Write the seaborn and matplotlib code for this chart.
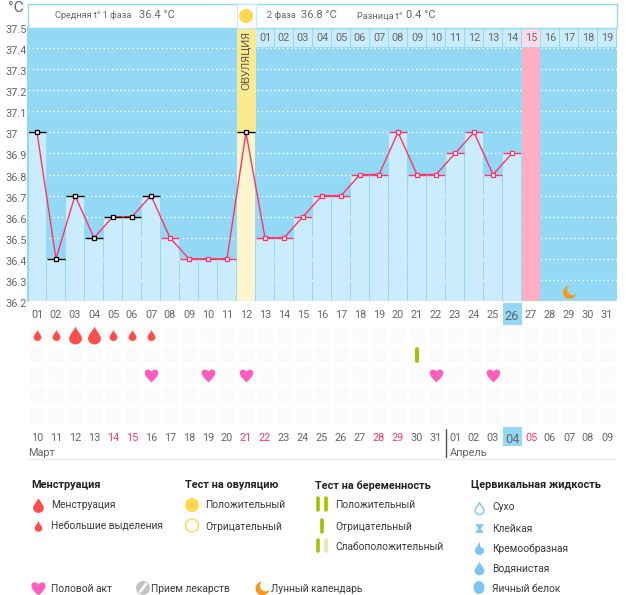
import numpy as np
import matplotlib
matplotlib.use("Agg")
import matplotlib.pyplot as plt
from matplotlib.path import Path
from matplotlib.patches import Rectangle, Circle, Ellipse
from matplotlib.transforms import ScaledTranslation
import seaborn as sns

days = [f"{i:02d}" for i in range(1, 32)]
temps = [37.0, 36.4, 36.7, 36.5, 36.6, 36.6, 36.7, 36.5, 36.4, 36.4, 36.4, 37.0, 36.5,
         36.5, 36.6, 36.7, 36.7, 36.8, 36.8, 37.0, 36.8, 36.8, 36.9, 37.0, 36.8, 36.9]
first_phase_days = [1, 2, 3, 4, 5, 6, 7, 12]
ovulation_day = 12
period_day = 27
today_day = 26
top_days = [f"{i:02d}" for i in range(1, 20)]
yticks = [36.2, 36.3, 36.4, 36.5, 36.6, 36.7, 36.8, 36.9, 37.0, 37.1, 37.2, 37.3, 37.4, 37.5]
ylabels = ["36.2", "36.3", "36.4", "36.5", "36.6", "36.7", "36.8", "36.9", "37", "37.1", "37.2", "37.3", "37.4", "37.5"]
dates = ["10", "11", "12", "13", "14", "15", "16", "17", "18", "19", "20", "21", "22", "23", "24", "25",
         "26", "27", "28", "29", "30", "31", "01", "02", "03", "04", "05", "06", "07", "08", "09"]
red_date_idx = [4, 5, 11, 12, 18, 19, 26]
small_drops = [1, 2, 5, 6, 7]
big_drops = [3, 4]
hearts = [7, 10, 12, 22, 25]
test_days = [21]
moon_day = 29

BG = "#93d8f5"; BAR = "#cbecfd"; PINK = "#ff3366"; TXT = "#666666"
RED = "#ff4d4d"; HEART = "#ff5cc0"; GREEN = "#9cc400"; ORANGE = "#f39a1a"; ICON = "#7cc4f4"
W, H = 626, 595

sns.set_style("white")
plt.rcParams["font.family"] = ["Roboto", "DejaVu Sans"]

def drop_path():
    v = [(0, 1), (0.15, 0.55), (0.72, 0.1), (0.72, -0.35), (0.72, -0.75), (0.35, -1), (0, -1),
         (-0.35, -1), (-0.72, -0.75), (-0.72, -0.35), (-0.72, 0.1), (-0.15, 0.55), (0, 1)]
    c = [Path.MOVETO] + [Path.CURVE4] * 12
    return Path(v, c)

def heart_path():
    v = [(0, -1), (-0.5, -0.55), (-1, -0.1), (-1, 0.4), (-1, 0.95), (-0.25, 1.05), (0, 0.55),
         (0.25, 1.05), (1, 0.95), (1, 0.4), (1, -0.1), (0.5, -0.55), (0, -1)]
    c = [Path.MOVETO] + [Path.CURVE4] * 12
    return Path(v, c)

def moon_path():
    cx, cy, r = 0.42, 0.38, 0.78
    d = np.hypot(cx, cy)
    a = np.arctan2(cy, cx)
    alpha = np.arccos((d * d + 1 - r * r) / (2 * d))
    beta = np.arccos((d * d + r * r - 1) / (2 * d * r))
    t1 = np.linspace(a + alpha, a + 2 * np.pi - alpha, 50)
    t2 = np.linspace(a + np.pi + beta, a + np.pi - beta, 30)
    pts = np.r_[np.c_[np.cos(t1), np.sin(t1)], np.c_[cx + r * np.cos(t2), cy + r * np.sin(t2)]]
    return Path(np.r_[pts, pts[:1]], closed=True)

DROP, HRT, MOON = drop_path(), heart_path(), moon_path()

fig = plt.figure(figsize=(W / 100, H / 100), dpi=100, facecolor="white")

def px_axes(l, t, r, b):
    return fig.add_axes([l / W, 1 - b / H, (r - l) / W, (b - t) / H])

# ---------- main chart ----------
ax = px_axes(27.5, 27, 616.5, 301)
ax.set_facecolor(BG)
x = np.arange(len(temps))
sns.barplot(x=days[:len(temps)], y=temps, order=days, color=BAR, saturation=1, width=0.94,
            errorbar=None, ax=ax, zorder=2, linewidth=0, edgecolor="none")
ax.patches[ovulation_day - 1].set_facecolor("#fdf5cc")
ax.set_xlim(-0.5, 30.5)
ax.set_ylim(36.2, 37.5)
ax.set_axisbelow(True)
ax.set_yticks(yticks, ylabels)
ax.grid(axis="y", color="white", ls=(0, (1, 2)), lw=1)
ax.grid(axis="x", visible=False)
ax.set_xlabel(""); ax.set_ylabel("")
ax.tick_params(axis="y", length=0, pad=16.2, labelsize=7.8, labelcolor=TXT)
ax.tick_params(axis="x", length=0, pad=6.5, labelsize=7.8, labelcolor=TXT)
shift = ScaledTranslation(0, -2 / 100, fig.dpi_scale_trans)
for lab in ax.get_yticklabels():
    lab.set_ha("left")
    lab.set_transform(lab.get_transform() + shift)
for s in ax.spines.values():
    s.set_visible(False)
ax.axvline(-0.5, color=BG, lw=1.5, zorder=5, clip_on=False)

ax.axvspan(ovulation_day - 1.5, ovulation_day - 0.5, ymin=(37.0 - 36.2) / 1.3, color="#fbe98f", lw=0, zorder=2)
ax.axvspan(period_day - 1.5 + 0.02, period_day - 0.5 - 0.02, ymax=(37.4 - 36.2) / 1.3, color="#ffaec4", lw=0, zorder=2)

# row of second-cycle numbering at the top
for i, lab in enumerate(top_days):
    pos = ovulation_day + i
    col = "#fddbe6" if pos + 1 == period_day else BAR
    ax.add_patch(Rectangle((pos - 0.47, 37.405), 0.94, 0.095, color=col, lw=0, zorder=2))
    ax.text(pos, 37.447, lab, ha="center", va="center", fontsize=7.8, color=TXT, zorder=6)
ax.text(ovulation_day - 1, 37.339, "ОВУЛЯЦИЯ", rotation=90, ha="center", va="center",
        fontsize=7.8, color="#555555", zorder=6, family="Noto Sans")

# temperature curve
sns.lineplot(x=x, y=temps, color=PINK, lw=1, errorbar=None, ax=ax, zorder=4)
first = np.isin(x + 1, first_phase_days)
temps_arr = np.array(temps)
ax.hlines(temps_arr[first], x[first] - 0.48, x[first] + 0.48, color="black", lw=1, zorder=4)
ax.hlines(temps_arr[~first], x[~first] - 0.48, x[~first] + 0.48, color=PINK, lw=1, zorder=4)
sns.scatterplot(x=x[first], y=temps_arr[first], marker="s", s=11, facecolor="white",
                edgecolor="black", linewidth=0.9, ax=ax, zorder=5)
sns.scatterplot(x=x[~first], y=temps_arr[~first], marker="s", s=11, facecolor="white",
                edgecolor=PINK, linewidth=0.9, ax=ax, zorder=5)
sns.scatterplot(x=[moon_day - 1], y=[36.245], marker=MOON, s=85, color=ORANGE, linewidth=0, ax=ax, zorder=5)

ax.add_patch(Rectangle((today_day - 1.5, 36.19), 1, -0.105, color=BG, lw=0, clip_on=False, zorder=0.2))
ax.get_xticklabels()[today_day - 1].set_fontsize(9.2)

# ---------- lower panel ----------
low = px_axes(27.5, 324.5, 616.5, 426)
sns.heatmap(np.zeros((5, 31)), cmap=["#fbfbfb"], cbar=False, linewidths=1.5, linecolor="white",
            xticklabels=dates, yticklabels=False, ax=low)
low.tick_params(axis="x", length=0, pad=5, labelsize=7.8, labelcolor=TXT, rotation=0)
for i, lab in enumerate(low.get_xticklabels()):
    if i in red_date_idx:
        lab.set_color(PINK)
    if i == today_day - 1:
        lab.set_fontsize(9.2)
low.add_patch(Rectangle((today_day - 1, 5.03), 1, 0.95, color=BG, lw=0, clip_on=False, zorder=0.2))

arr = lambda d: np.array(d) - 0.5
sns.scatterplot(x=arr(small_drops), y=[0.5] * len(small_drops), marker=DROP, s=62, color=RED, linewidth=0, ax=low, zorder=4)
sns.scatterplot(x=arr(big_drops), y=[0.5] * len(big_drops), marker=DROP, s=165, color=RED, linewidth=0, ax=low, zorder=4)
sns.scatterplot(x=arr(hearts), y=[2.5] * len(hearts), marker=HRT, s=105, color=HEART, linewidth=0, ax=low, zorder=4)
low.vlines(arr(test_days), 1.2, 1.8, color=GREEN, lw=2.8, capstyle="round", zorder=4)

# ---------- overlay (header, labels, legend) ----------
ov = fig.add_axes([0, 0, 1, 1], facecolor="none")
ov.set_xlim(0, W); ov.set_ylim(H, 0); ov.axis("off")
ov.add_patch(Rectangle((27.5, 3.5), 589, 24, fc="white", ec=BG, lw=1, zorder=0))
ov.add_patch(Rectangle((236.5, 3.5), 19, 24, fc="white", ec="#c8ecfa", lw=1, zorder=1))
ov.add_patch(Circle((246, 16), 7, fc="#ffd84d", ec="none", zorder=2))

def t(x_, y_, s_, size=8.2, color=TXT, weight="normal"):
    ov.text(x_, y_, s_, fontsize=size, color=color, fontweight=weight, ha="left", va="center")

t(8, 8, "°C", 11)
t(55, 16, "Средняя t° 1 фаза", 6.6)
t(139, 15.5, "36.4 °C", 8.0)
t(267, 16, "2 фаза", 6.6)
t(301, 15.5, "36.8 °C", 8.0)
t(357, 16, "Разница t°", 6.6)
t(406, 15.5, "0.4 °C", 8.0)

t(28, 453, "Март", 7.8)
t(450, 453, "Апрель", 7.8)
ov.plot([445.5, 445.5], [429, 457], color="#555555", lw=1)
ov.plot([27, 616], [458.5, 458.5], color="#eeeeee", lw=1)

LG = "#3a3a3a"
for xx, s_ in [(31, "Менструация"), (185, "Тест на овуляцию"), (315, "Тест на беременность"), (471, "Цервикальная жидкость")]:
    t(xx, 485.5, s_, 7.85, "#222222", "bold")
for xx, yy, s_ in [(51, 505.5, "Менструация"), (51, 526.5, "Небольшие выделения"),
                   (205, 505.5, "Положительный"), (205, 526.5, "Отрицательный"),
                   (335, 505.5, "Положительный"), (335, 526.5, "Отрицательный"), (335, 546.5, "Слабоположительный"),
                   (492, 507.5, "Сухо"), (492, 528.5, "Клейкая"), (492, 548.5, "Кремообразная"),
                   (492, 568.5, "Водянистая"), (492, 588.5, "Яичный белок"),
                   (51, 588.5, "Половой акт"), (151, 588.5, "Прием лекарств"), (271, 588.5, "Лунный календарь")]:
    t(xx, yy, s_, 7.4, LG)

ov.scatter([38], [505], marker=DROP, s=115, color=RED, lw=0)
ov.scatter([38], [526], marker=DROP, s=58, color=RED, lw=0)
ov.add_patch(Circle((192, 505), 7, fc="#ffd84d", ec="none"))
ov.add_patch(Circle((192, 525.5), 6.5, fc="white", ec="#ffd84d", lw=1))
for xx, y0, y1, c in [(318, 498, 510, GREEN), (326, 498, 510, GREEN), (322, 520, 532, GREEN),
                      (318, 540, 551, GREEN), (326, 540, 551, "#dfe9b0")]:
    ov.plot([xx, xx], [y0, y1], color=c, lw=2.6, solid_capstyle="round")
# cervical fluid icons
ov.scatter([479], [508], marker=DROP, s=75, facecolor="white", edgecolor=ICON, linewidth=1)
ov.scatter([479], [528], marker=Path([(-1, 1), (1, 1), (0.25, 0), (1, -1), (-1, -1), (-0.25, 0), (-1, 1)], closed=True), s=40, color=ICON, lw=0)
ov.scatter([479], [548], marker=DROP, s=85, color=ICON, lw=0)
ov.add_patch(Circle((483, 545), 3, fc="white", ec="none", zorder=3))
ov.scatter([479], [568], marker=DROP, s=95, color=ICON, lw=0)
ov.add_patch(Ellipse((479, 587.5), 11, 13, fc=ICON, ec="none"))
ov.scatter([38], [588], marker=HRT, s=115, color=HEART, lw=0)
ov.add_patch(Circle((143, 588), 7, fc="#c4c4c4", ec="none"))
ov.plot([140, 146], [592, 584], color="white", lw=1.8)
ov.scatter([262], [587.5], marker=MOON, s=100, color=ORANGE, lw=0)

fig.savefig("out.png", dpi=100)
